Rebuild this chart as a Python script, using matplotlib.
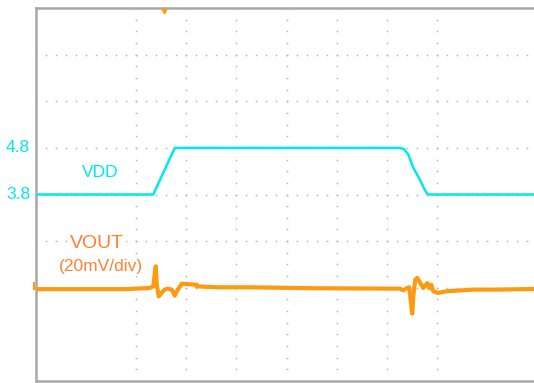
import matplotlib
matplotlib.use("Agg")
import matplotlib.pyplot as plt
import numpy as np

plt.rcParams['font.family'] = ['Liberation Sans', 'DejaVu Sans']

# Time axis in graticule divisions (10 divisions across)
vdd_t = [0.0, 2.34, 2.77, 7.27, 7.35, 7.43, 7.52, 7.66, 7.76, 7.82, 10.0]
vdd_v = [3.8, 3.8, 4.8, 4.8, 4.77, 4.66, 4.40, 4.12, 3.90, 3.8, 3.8]

vout_t = [0.0, 1.80, 2.27, 2.34, 2.39, 2.41, 2.45, 2.51, 2.57, 2.63, 2.71,
          2.77, 2.81, 2.91, 3.21, 3.21, 3.61, 4.27, 5.50, 7.27, 7.33, 7.41,
          7.45, 7.51, 7.53, 7.57, 7.61, 7.65, 7.73, 7.81, 7.85, 7.89, 7.93,
          8.02, 8.20, 8.72, 9.20, 10.0]
vout_mv = [-0.2, -0.2, 0.3, 1.0, 9.6, 1.7, -3.3, -1.7, -0.4, 0.0, -0.4,
           -3.0, -1.1, 2.1, 1.7, 1.0, 0.6, 0.6, 0.2, 0.0, -0.7, 0.3,
           0.6, -10.7, -3.3, 3.9, 4.6, 3.2, 0.3, 2.4, 0.3, 1.7, -1.1,
           -1.8, -1.1, -0.4, -0.4, -0.1]

vdd_ticks = [4.8, 3.8]

# Channel scaling onto the graticule
VDD_REF, VDD_POS, VDD_SCALE = 3.8, 4.0, 1.0      # 1 V/div
VOUT_POS, VOUT_SCALE = 1.98, 20.0                 # 20 mV/div


def vdd_to_div(v):
    return VDD_POS + (np.asarray(v) - VDD_REF) / VDD_SCALE


def vout_to_div(mv):
    return VOUT_POS + np.asarray(mv) / VOUT_SCALE


W, H = 534, 383
fig = plt.figure(figsize=(W / 100, H / 100), dpi=100)
left_px, right_px, top_px, bot_px = 36, 537, 8, 381
ax = fig.add_axes([left_px / W, (H - bot_px) / H,
                   (right_px - left_px) / W, (bot_px - top_px) / H])
ax.set_xlim(0, 10)
ax.set_ylim(0, 8)
ax.set_xticks([])
ax.set_yticks([])
for side in ['left', 'top', 'bottom']:
    ax.spines[side].set_color('#a8a8a8')
    ax.spines[side].set_linewidth(1.8)
ax.spines['right'].set_visible(False)

# Dotted graticule
dot_col = '#b4b4b4'
rows = [2, 3, 4, 5, 6, 7]
cols = [2, 3, 4, 5, 6, 7, 8]
for r in rows:
    xs = np.arange(0, 10.001, 0.2)
    ax.plot(xs, np.full_like(xs, r), ls='none', marker='s', ms=1.1,
            mec='none', mfc=dot_col, zorder=1)
for c in cols:
    ys = np.arange(0, 8.001, 0.25)
    ax.plot(np.full_like(ys, c), ys, ls='none', marker='s', ms=1.1,
            mec='none', mfc=dot_col, zorder=1)

cyan = '#00e8f0'
orange = '#ff9a10'
label_orange = '#ff8030'

ax.plot(vdd_t, vdd_to_div(vdd_v), color=cyan, lw=1.8, zorder=3,
        solid_joinstyle='round')
ax.plot(vout_t, vout_to_div(vout_mv), color=orange, lw=3.0, zorder=4,
        solid_joinstyle='round')

# Channel level labels on the left
for v in vdd_ticks:
    ax.text(-0.12, vdd_to_div(v), f"{v:.1f}", color=cyan, fontsize=12.5,
            ha='right', va='center', clip_on=False)

box = dict(facecolor='white', edgecolor='none', pad=1.5)
ax.text(1.28, 4.47, "VDD", color=cyan, fontsize=12.5, ha='center',
        va='center', bbox=box, zorder=5)
ax.text(1.22, 2.95, "VOUT", color=label_orange, fontsize=14, ha='center',
        va='center', bbox=box, zorder=5)
ax.text(1.30, 2.45, "(20mV/div)", color=label_orange, fontsize=12.5,
        ha='center', va='center', bbox=box, zorder=5)

# Trigger position marker and channel ground marker
ax.plot([2.56], [7.93], marker='v', ms=3.5, color=orange, clip_on=False,
        zorder=6)
ax.plot([-0.04, -0.04], [VOUT_POS, VOUT_POS + 0.12], color=orange, lw=1.5,
        clip_on=False, zorder=6)

fig.savefig("out.png", dpi=100, facecolor='white')
